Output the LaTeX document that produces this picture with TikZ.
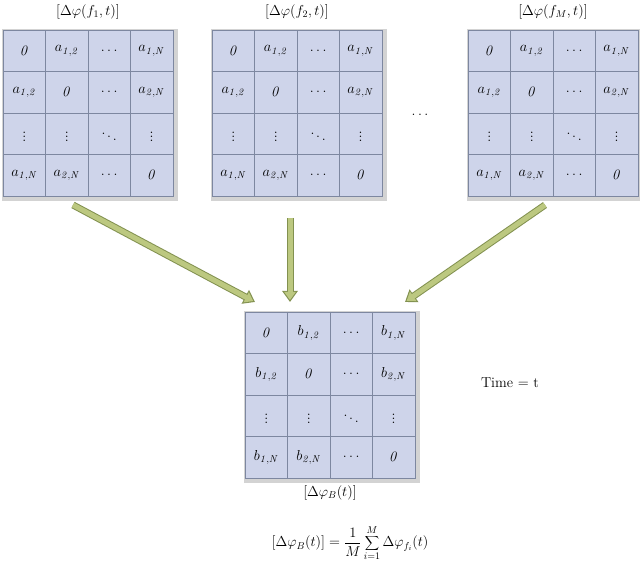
\documentclass[tikz,border=0pt]{standalone}
\usetikzlibrary{matrix,arrows.meta,shadows}
\definecolor{cellfill}{RGB}{206,212,234}
\definecolor{celldraw}{RGB}{125,135,160}
\definecolor{arrfill}{RGB}{188,200,128}
\definecolor{arrdraw}{RGB}{130,145,80}
\tikzset{
  grid/.style={matrix of math nodes, column sep=-0.5pt, row sep=-0.5pt,
    nodes={draw=celldraw, fill=cellfill, minimum width=42.5pt, minimum height=41.5pt, inner sep=0pt, font=\Large, anchor=center},
    drop shadow={shadow xshift=2pt, shadow yshift=-2pt, opacity=0.35}},
  fatout/.style={line width=7pt, draw=arrdraw, -{Triangle[width=15pt,length=11pt]}, shorten <=0pt},
  fatin/.style={line width=5pt, draw=arrfill, -{Triangle[width=11pt,length=8pt]}, shorten >=2pt},
  lbl/.style={font=\Large}
}
\newcommand{\zz}{\mathit{0}}
\begin{document}
\begin{tikzpicture}[x=1pt,y=1pt]
\useasboundingbox (0,0) rectangle (640,567);
\matrix[grid] (m1) at (88,454) {
 \zz & a_{\mathit{1,2}} & \ldots & a_{\mathit{1,N}}\\
 a_{\mathit{1,2}} & \zz & \ldots & a_{\mathit{2,N}}\\
 \vdots & \vdots & \ddots & \vdots\\
 a_{\mathit{1,N}} & a_{\mathit{2,N}} & \ldots & \zz\\};
\matrix[grid] (m2) at (297,454) {
 \zz & a_{\mathit{1,2}} & \ldots & a_{\mathit{1,N}}\\
 a_{\mathit{1,2}} & \zz & \ldots & a_{\mathit{2,N}}\\
 \vdots & \vdots & \ddots & \vdots\\
 a_{\mathit{1,N}} & a_{\mathit{2,N}} & \ldots & \zz\\};
\matrix[grid] (m3) at (553,454) {
 \zz & a_{\mathit{1,2}} & \ldots & a_{\mathit{1,N}}\\
 a_{\mathit{1,2}} & \zz & \ldots & a_{\mathit{2,N}}\\
 \vdots & \vdots & \ddots & \vdots\\
 a_{\mathit{1,N}} & a_{\mathit{2,N}} & \ldots & \zz\\};
\matrix[grid] (mb) at (330,172) {
 \zz & b_{\mathit{1,2}} & \ldots & b_{\mathit{1,N}}\\
 b_{\mathit{1,2}} & \zz & \ldots & b_{\mathit{2,N}}\\
 \vdots & \vdots & \ddots & \vdots\\
 b_{\mathit{1,N}} & b_{\mathit{2,N}} & \ldots & \zz\\};
\node[lbl] (l1) at (88,555) {$\left[\Delta\varphi(f_1,t)\right]$};
\node[lbl] (l2) at (297,555) {$\left[\Delta\varphi(f_2,t)\right]$};
\node[lbl] (l3) at (553,555) {$\left[\Delta\varphi(f_M,t)\right]$};
\node[lbl] (dots) at (420,452) {$\ldots$};
\node[lbl] (time) at (510,184) {Time = t};
\node[lbl] (lb) at (330,74) {$\left[\Delta\varphi_B(t)\right]$};
\node[lbl] (eq) at (350,24) {$\left[\Delta\varphi_B(t)\right]=\displaystyle\frac{1}{M}\sum_{i=1}^{M}\Delta\varphi_{f_i}(t)$};
\coordinate (a1s) at (73,362); \coordinate (a1e) at (255,265);
\coordinate (a2s) at (290,349); \coordinate (a2e) at (290,265);
\coordinate (a3s) at (545,362); \coordinate (a3e) at (405,265);
\foreach \s/\e in {a1s/a1e,a2s/a2e,a3s/a3e}{
  \draw[fatout] (\s) -- (\e);
  \draw[fatin] (\s) -- (\e);
}
\end{tikzpicture}
\end{document}
